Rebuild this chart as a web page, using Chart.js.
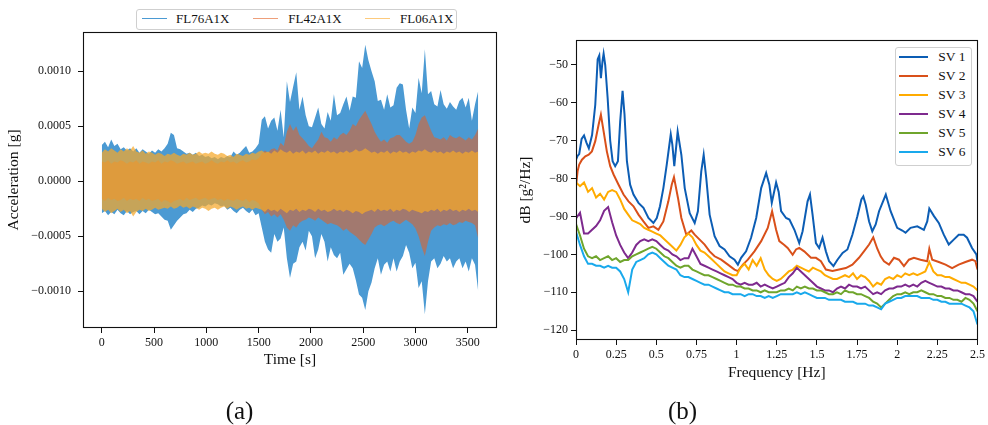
<!DOCTYPE html>
<html><head><meta charset="utf-8">
<script src="https://cdn.jsdelivr.net/npm/chart.js@4.4.0/dist/chart.umd.min.js"></script>
<style>
html,body{margin:0;padding:0;background:#fff;}
#wrap{position:relative;width:988px;height:425px;overflow:hidden;font-family:'Liberation Serif',serif;color:#111;}
canvas{position:absolute;top:0;}
.lg{position:absolute;border:1px solid #cfcfcf;border-radius:3px;background:#fff;box-sizing:border-box;}
.ln{position:absolute;}
.tx{position:absolute;white-space:nowrap;}
.cap{position:absolute;font-size:25px;line-height:25px;text-align:center;width:60px;}
</style></head>
<body><div id="wrap">
<canvas id="c1" width="510" height="425" style="left:0"></canvas>
<canvas id="c2" width="488" height="425" style="left:500px"></canvas>
</div>
<script>
// ---------------- (a) time series: envelope of each record, acceleration in units of 1e-4 g ----------------
const timeS = [0,30,60,90,120,150,180,210,240,270,300,330,360,390,420,450,480,510,540,570,600,630,660,690,720,750,780,810,840,870,900,930,960,990,1020,1050,1080,1110,1140,1170,1200,1230,1260,1290,1320,1350,1380,1410,1440,1470,1500,1530,1560,1590,1620,1650,1680,1710,1740,1770,1800,1830,1860,1890,1920,1950,1980,2010,2040,2070,2100,2130,2160,2190,2220,2250,2280,2310,2340,2370,2400,2430,2460,2490,2520,2550,2580,2610,2640,2670,2700,2730,2760,2790,2820,2850,2880,2910,2940,2970,3000,3030,3060,3090,3120,3150,3180,3210,3240,3270,3300,3330,3360,3390,3420,3450,3480,3510,3540,3570,3600];
const fl76Max = [3.3,3.6,3.1,3.8,3.2,3.4,2.9,3.1,2.8,3.0,2.7,3.0,2.6,2.9,2.7,2.5,2.8,2.6,2.9,2.7,3.0,3.4,4.4,4.2,3.0,2.9,2.7,2.5,2.6,2.4,2.6,2.3,2.4,2.2,2.3,2.1,2.2,2.0,2.2,2.1,2.3,2.2,2.7,2.4,2.6,2.9,3.2,2.6,2.7,3.0,3.4,5.6,5.9,4.8,5.5,5.8,4.6,6.5,4.0,9.1,7.2,8.6,9.9,6.5,7.7,6.0,5.0,4.9,5.8,6.7,5.2,4.8,6.3,5.5,7.9,6.0,6.2,7.0,7.7,6.4,7.7,7.6,10.9,10.3,12.4,11.0,10.0,9.1,7.3,7.4,6.5,7.9,6.7,6.9,8.5,8.9,8.8,6.5,4.8,6.7,6.2,9.4,8.0,12.0,7.9,8.2,7.0,6.8,8.3,7.0,6.6,7.2,6.8,6.5,7.3,7.6,6.7,7.6,5.5,7.0,8.2];
const fl76Min = [-2.9,-2.7,-3.1,-2.8,-3.0,-2.6,-2.9,-3.1,-2.7,-3.0,-2.8,-2.7,-3.0,-2.7,-2.9,-2.6,-2.8,-3.0,-2.9,-3.2,-3.5,-3.6,-4.4,-4.0,-3.6,-3.3,-3.0,-2.9,-2.6,-2.8,-2.5,-2.4,-2.2,-2.3,-2.1,-2.2,-2.0,-2.1,-2.3,-2.2,-2.6,-2.4,-2.7,-2.9,-2.6,-2.4,-2.7,-2.9,-2.6,-3.1,-2.9,-4.2,-5.5,-6.2,-6.5,-4.8,-5.5,-5.2,-4.2,-7.0,-8.8,-7.5,-7.3,-6.0,-5.5,-6.3,-4.5,-5.0,-7.0,-6.2,-4.8,-5.5,-7.3,-6.0,-6.7,-7.0,-6.5,-8.5,-8.0,-7.5,-7.9,-9.0,-10.3,-10.6,-11.7,-10.0,-9.2,-7.9,-7.0,-8.5,-7.6,-7.3,-8.2,-7.0,-8.2,-7.3,-6.8,-5.8,-6.5,-7.9,-7.4,-9.7,-9.1,-12.1,-9.1,-7.3,-7.0,-7.9,-7.5,-6.8,-7.3,-7.0,-7.9,-7.3,-7.0,-7.9,-7.3,-8.2,-7.0,-7.6,-10.0];
const fl42Max = [1.8,1.7,1.9,1.6,1.8,1.7,1.9,1.8,1.6,1.8,1.7,1.9,1.6,1.8,1.7,1.6,1.8,1.7,1.9,1.6,1.8,1.7,1.9,1.8,1.6,1.7,1.8,1.6,1.7,1.8,1.6,1.7,1.8,1.6,1.7,1.9,1.7,1.6,1.8,1.7,1.9,1.7,1.8,1.6,1.8,1.9,1.7,1.8,2.0,1.9,2.1,2.5,2.8,2.6,2.9,3.0,2.8,3.5,3.2,4.5,5.2,4.6,5.0,4.2,3.9,3.6,3.2,3.0,3.4,3.8,4.5,4.0,3.9,3.6,4.0,3.8,4.2,4.4,4.2,4.6,5.2,5.0,5.6,6.0,6.4,5.8,5.2,4.5,4.0,3.6,3.8,3.5,3.9,4.0,4.2,4.2,3.9,3.6,3.4,3.6,4.2,5.2,5.8,6.0,5.3,4.6,4.0,3.9,3.8,4.0,3.7,4.2,4.0,3.9,4.1,3.9,3.7,4.0,3.8,4.2,4.8];
const fl42Min = [-1.6,-1.8,-1.5,-1.7,-1.6,-1.8,-1.7,-1.5,-1.8,-1.6,-1.7,-1.6,-1.8,-1.5,-1.7,-1.6,-1.8,-1.7,-1.6,-1.9,-1.7,-1.8,-2.0,-1.8,-1.7,-1.6,-1.8,-1.5,-1.7,-1.6,-1.5,-1.7,-1.6,-1.5,-1.7,-1.6,-1.5,-1.7,-1.6,-1.8,-1.6,-1.7,-1.8,-1.6,-1.7,-1.8,-1.6,-1.9,-1.7,-1.8,-2.0,-2.6,-3.0,-2.8,-3.2,-3.0,-3.3,-3.0,-3.5,-4.2,-4.5,-4.0,-4.2,-3.8,-3.6,-3.5,-3.3,-3.4,-3.6,-3.3,-3.5,-3.7,-3.9,-3.8,-3.9,-4.0,-4.2,-4.5,-4.3,-4.6,-4.8,-5.0,-5.3,-5.6,-5.8,-5.3,-4.8,-4.2,-4.0,-3.9,-4.1,-3.9,-3.7,-3.6,-3.8,-3.9,-3.7,-3.5,-3.7,-3.9,-4.3,-5.0,-6.0,-6.8,-5.5,-4.5,-4.2,-4.0,-4.1,-3.9,-4.0,-3.8,-4.0,-3.9,-3.7,-3.8,-3.6,-3.7,-3.8,-4.0,-5.2];
const fl06Max = [2.6,2.9,2.7,3.0,2.8,2.6,2.9,2.7,3.0,2.8,3.2,2.7,2.6,2.8,2.5,2.7,2.6,2.4,2.6,2.5,2.3,2.5,2.4,2.6,2.4,2.3,2.5,2.4,2.6,2.4,2.5,2.7,2.5,2.6,2.5,2.7,2.5,2.4,2.6,2.5,2.3,2.4,2.2,2.5,2.4,2.3,2.5,2.4,2.6,2.5,2.7,2.8,2.6,2.7,2.5,2.8,2.6,2.9,2.7,2.6,2.8,2.5,2.7,2.6,2.8,2.5,2.7,2.6,2.8,2.5,2.7,2.6,2.8,2.6,2.7,2.5,2.7,2.6,2.8,2.6,2.7,2.9,2.7,2.8,3.0,2.8,2.6,2.7,2.5,2.7,2.6,2.8,2.5,2.7,2.6,2.8,2.6,2.7,2.5,2.7,2.6,2.8,2.7,2.9,2.7,2.6,2.8,2.6,2.7,2.5,2.7,2.6,2.8,2.6,2.7,2.5,2.7,2.6,2.8,2.6,2.7];
const fl06Min = [-2.5,-2.8,-2.6,-2.9,-2.7,-2.5,-2.8,-2.6,-2.9,-2.7,-3.2,-2.8,-2.6,-2.7,-2.5,-2.7,-2.6,-2.4,-2.6,-2.5,-2.4,-2.5,-2.3,-2.5,-2.4,-2.2,-2.4,-2.3,-2.5,-2.3,-2.4,-2.6,-2.4,-2.5,-2.7,-2.5,-2.4,-2.6,-2.4,-2.3,-2.5,-2.3,-2.4,-2.6,-2.4,-2.3,-2.5,-2.4,-2.6,-2.4,-2.5,-2.6,-2.8,-2.5,-2.7,-2.6,-2.8,-2.5,-2.7,-2.9,-2.6,-2.7,-2.5,-2.8,-2.6,-2.7,-2.5,-2.6,-2.8,-2.5,-2.7,-2.6,-2.8,-2.7,-2.5,-2.7,-2.6,-2.8,-2.6,-2.7,-2.9,-2.7,-2.8,-3.0,-2.8,-2.7,-2.6,-2.8,-2.5,-2.7,-2.6,-2.7,-2.5,-2.8,-2.6,-2.7,-2.5,-2.6,-2.8,-2.6,-2.7,-2.8,-2.9,-2.7,-2.8,-2.6,-2.7,-2.5,-2.8,-2.6,-2.7,-2.5,-2.7,-2.6,-2.8,-2.6,-2.7,-2.5,-2.7,-2.6,-2.8];
const timeTicks = [0,500,1000,1500,2000,2500,3000,3500];
const timeTickLabels = ['0','500','1000','1500','2000','2500','3000','3500'];
const accTicks = [-10,-5,0,5,10];               // in 1e-4 g
const accTickLabels = ['\u22120.0010','\u22120.0005','0.0000','0.0005','0.0010'];
const recNames = ['FL76A1X','FL42A1X','FL06A1X'];

// ---------------- (b) spectra (dB of g^2/Hz) ----------------
const freqSV1 = [0,0.01,0.02,0.035,0.05,0.065,0.08,0.1,0.12,0.135,0.145,0.155,0.165,0.172,0.182,0.197,0.213,0.228,0.244,0.261,0.275,0.29,0.302,0.317,0.337,0.358,0.389,0.42,0.451,0.482,0.503,0.523,0.544,0.565,0.59,0.6,0.612,0.633,0.656,0.677,0.708,0.739,0.759,0.78,0.795,0.811,0.832,0.863,0.894,0.925,0.956,0.987,1.008,1.028,1.059,1.09,1.122,1.153,1.184,1.204,1.219,1.246,1.262,1.277,1.308,1.329,1.36,1.39,1.411,1.442,1.457,1.473,1.494,1.514,1.535,1.556,1.576,1.603,1.628,1.66,1.69,1.721,1.752,1.777,1.789,1.804,1.825,1.845,1.866,1.887,1.929,1.959,2.0,2.032,2.052,2.083,2.125,2.166,2.187,2.2,2.229,2.259,2.29,2.321,2.352,2.383,2.414,2.435,2.466,2.493,2.5];
const sv1 = [-75,-74,-73.5,-69.5,-68.6,-70.5,-72,-68.5,-60.5,-48.5,-47.5,-53.5,-49,-47,-50,-58.7,-70,-75.4,-76.7,-75.4,-65,-56.8,-63,-75.4,-81.6,-84.2,-86.4,-87.7,-90.4,-91.7,-90.4,-87.3,-82.5,-76.3,-68.3,-71,-76.7,-67.6,-73.7,-82.5,-89.1,-91.7,-88.6,-78.1,-73.7,-79.8,-89.5,-95.2,-97.8,-98.7,-100.5,-101.4,-102.7,-100.9,-99.2,-95.6,-90.4,-82.5,-78.5,-81.6,-86.4,-81.0,-83.5,-88.6,-90.4,-90.8,-93.5,-97,-93.9,-86,-84.2,-89.5,-97,-98.3,-95.6,-99.2,-101.8,-103.1,-101.4,-99.6,-98.7,-94.8,-89.9,-85.5,-84.7,-86.9,-91.3,-93.9,-92.1,-88.6,-84.2,-88.6,-93,-93.7,-94.3,-93,-92.6,-93.5,-91.3,-87.9,-89.9,-91.7,-94.8,-97.4,-96.1,-94.8,-94.8,-95.6,-98.3,-100,-102];
const freqSV2 = [0,0.01,0.02,0.037,0.058,0.079,0.099,0.12,0.141,0.155,0.172,0.192,0.213,0.234,0.265,0.296,0.327,0.358,0.389,0.42,0.451,0.482,0.513,0.544,0.575,0.596,0.61,0.635,0.656,0.687,0.718,0.739,0.77,0.801,0.832,0.863,0.904,0.946,0.987,1.008,1.039,1.07,1.111,1.153,1.194,1.221,1.246,1.266,1.297,1.318,1.349,1.37,1.39,1.421,1.463,1.494,1.525,1.556,1.597,1.638,1.68,1.721,1.762,1.793,1.825,1.851,1.876,1.897,1.918,1.949,1.98,2.011,2.042,2.073,2.104,2.145,2.187,2.2,2.218,2.259,2.301,2.342,2.383,2.425,2.466,2.487,2.5];
const sv2 = [-82,-78,-76.3,-75,-74.1,-73.7,-72.8,-70.1,-65.7,-63.1,-67.5,-72.8,-76.7,-78.9,-81.6,-84.2,-86,-87.3,-89.5,-91.3,-93,-92.6,-93.5,-91.3,-86,-81.6,-79.6,-85.1,-90.4,-94.8,-93.7,-94.8,-96.1,-97.4,-99.2,-100.5,-101.4,-102.7,-104,-104.4,-102.7,-101.4,-99.2,-96.5,-93,-88.6,-93.5,-96.5,-97.5,-98.3,-100.1,-98.7,-98.3,-99.2,-100.9,-100.9,-101.8,-104,-104.4,-104,-103.6,-102.7,-100.9,-99.2,-97.4,-95.5,-98.5,-100.5,-101.8,-102.7,-100.9,-101.4,-103.1,-101.4,-100.9,-101.4,-101.8,-98.5,-101.4,-102,-102.7,-103.6,-102.7,-102,-101.4,-101.8,-104];
const freqGrid = [0,0.025,0.05,0.075,0.1,0.125,0.15,0.175,0.2,0.225,0.25,0.275,0.3,0.325,0.35,0.375,0.4,0.425,0.45,0.475,0.5,0.525,0.55,0.575,0.6,0.625,0.65,0.675,0.7,0.725,0.75,0.775,0.8,0.825,0.85,0.875,0.9,0.925,0.95,0.975,1,1.025,1.05,1.075,1.1,1.125,1.15,1.175,1.2,1.225,1.25,1.275,1.3,1.325,1.35,1.375,1.4,1.425,1.45,1.475,1.5,1.525,1.55,1.575,1.6,1.625,1.65,1.675,1.7,1.725,1.75,1.775,1.8,1.825,1.85,1.875,1.9,1.925,1.95,1.975,2,2.025,2.05,2.075,2.1,2.125,2.15,2.175,2.2,2.225,2.25,2.275,2.3,2.325,2.35,2.375,2.4,2.425,2.45,2.475,2.5];
const sv3 = [-81.0,-82.0,-81.0,-83.5,-82.5,-85.0,-84.0,-85.5,-83.5,-83.0,-83.5,-85.5,-88.0,-89.5,-91.0,-91.5,-92.0,-93.0,-93.5,-94.0,-94.5,-95.0,-96.0,-97.0,-98.0,-99.0,-97.5,-95.5,-94.5,-95.5,-97.5,-99.0,-99.5,-100.5,-101.5,-102.5,-103.5,-104.5,-105.0,-105.5,-105.5,-103.5,-102.5,-104.0,-101.5,-103.0,-101.0,-104.0,-105.5,-106.5,-107.0,-106.5,-105.5,-104.5,-104.0,-103.0,-103.5,-104.0,-104.5,-103.5,-104.0,-104.5,-105.5,-106.0,-106.5,-106.5,-106.0,-105.5,-106.0,-105.0,-106.5,-105.5,-106.0,-107.0,-108.5,-107.5,-108.0,-106.5,-106.0,-106.5,-105.5,-106.0,-105.0,-105.5,-105.0,-105.5,-105.0,-104.5,-102.0,-104.5,-105.5,-105.5,-106.0,-106.0,-106.5,-107.0,-107.5,-107.5,-108.0,-108.5,-109.5];
const sv4 = [-90.5,-89.0,-94.5,-94.5,-93.5,-92.5,-91.0,-88.5,-87.5,-91.5,-95.0,-97.5,-99.5,-101.0,-99.5,-97.5,-96.5,-96.0,-96.5,-96.0,-96.5,-97.5,-98.5,-99.0,-100.0,-100.5,-101.5,-101.0,-101.0,-98.5,-100.5,-102.5,-103.0,-103.5,-104.0,-104.5,-105.0,-105.5,-106.0,-106.5,-107.5,-108.0,-107.5,-108.0,-108.0,-107.5,-108.5,-108.0,-108.5,-109.0,-108.5,-108.0,-107.5,-106.0,-105.0,-103.5,-104.5,-105.5,-106.5,-107.5,-108.5,-109.0,-109.5,-109.5,-110.0,-109.0,-108.5,-109.0,-108.0,-108.5,-108.5,-109.0,-108.5,-109.5,-110.5,-110.0,-110.5,-109.5,-109.0,-109.0,-108.5,-108.5,-108.0,-108.5,-108.0,-108.5,-107.5,-107.0,-107.5,-108.0,-108.5,-108.5,-109.0,-109.0,-109.5,-109.5,-110.0,-110.5,-110.5,-111.0,-112.5];
const sv5 = [-92.0,-95.0,-98.5,-100.5,-101.0,-100.5,-101.5,-101.0,-100.5,-101.5,-101.0,-102.0,-101.5,-101.5,-100.5,-100.0,-99.5,-99.0,-98.5,-98.0,-98.5,-99.5,-100.5,-101.0,-102.0,-103.0,-103.5,-103.0,-103.0,-104.0,-104.5,-105.0,-105.5,-105.5,-106.0,-106.5,-107.0,-107.5,-108.0,-108.0,-108.5,-108.5,-109.0,-109.0,-109.5,-109.5,-110.0,-109.5,-110.0,-110.0,-110.0,-109.5,-109.5,-109.0,-109.5,-108.5,-109.0,-108.5,-109.0,-109.0,-109.5,-109.5,-110.0,-110.5,-110.5,-110.0,-110.5,-109.5,-110.0,-110.0,-110.5,-110.5,-111.0,-111.5,-112.5,-113.0,-114.0,-113.0,-112.0,-111.0,-110.5,-110.5,-110.0,-110.5,-110.0,-110.0,-109.5,-110.0,-110.5,-110.5,-111.0,-111.0,-111.5,-111.5,-112.0,-112.0,-112.5,-111.5,-112.0,-113.0,-115.0];
const sv6 = [-94.0,-97.5,-100.5,-102.5,-102.5,-103.0,-103.0,-103.5,-103.0,-103.5,-103.5,-104.5,-106.5,-110.0,-104.0,-102.0,-101.5,-101.0,-100.0,-99.5,-100.0,-101.0,-102.0,-103.0,-103.5,-104.0,-105.5,-106.0,-106.0,-106.5,-107.0,-107.5,-108.0,-108.0,-108.5,-109.0,-109.5,-110.0,-110.0,-110.5,-110.5,-110.5,-111.0,-110.5,-110.5,-111.0,-111.0,-111.5,-111.0,-111.5,-111.0,-110.5,-110.5,-110.5,-110.5,-110.0,-110.5,-110.0,-110.5,-111.0,-111.5,-111.5,-111.5,-112.0,-112.0,-112.0,-112.0,-112.5,-112.5,-112.5,-113.0,-113.0,-113.0,-113.5,-113.5,-114.0,-114.5,-113.0,-112.5,-112.0,-111.5,-111.5,-111.0,-111.0,-111.0,-111.0,-111.5,-111.5,-111.5,-112.0,-112.0,-112.5,-112.5,-113.0,-113.0,-113.0,-113.0,-113.5,-114.0,-115.0,-118.5];
const freqTicks = [0,0.25,0.5,0.75,1,1.25,1.5,1.75,2,2.25,2.5];
const freqTickLabels = ['0','0.25','0.5','0.75','1','1.25','1.5','1.75','2','2.25','2.5'];
const dbTicks = [-120,-110,-100,-90,-80,-70,-60,-50];
const dbTickLabels = ['\u2212120','\u2212110','\u2212100','\u221290','\u221280','\u221270','\u221260','\u221250'];
const svNames = ['SV 1','SV 2','SV 3','SV 4','SV 5','SV 6'];

// ---------------- styling ----------------
const FONT = "'Liberation Serif', 'Times New Roman', serif";
Chart.defaults.font.family = FONT;
Chart.defaults.color = '#111';
const recFill = ['#4b9ad3','rgba(220,100,45,0.6)','rgba(245,168,42,0.72)'];
const recLegend = ['#4b9ad3','#ee9f7a','#fdca7c'];
const svColors = ['#0c5db4','#d9501a','#ffab00','#7e2a8e','#6fa52c','#19a9ec'];

const pts = (xs, ys) => xs.map((x, i) => ({x: x, y: ys[i]}));
const frame = {id:'frame', afterDraw(ch){const a = ch.chartArea, c = ch.ctx; c.save(); c.strokeStyle='#111'; c.lineWidth=1.1; c.strokeRect(Math.round(a.left)+0.5, Math.round(a.top)+0.5, Math.round(a.right)-Math.round(a.left)-1, Math.round(a.bottom)-Math.round(a.top)-1); c.restore();}};
function axis(o){
  return {
    type:'linear', min:o.min, max:o.max, position:o.pos,
    afterBuildTicks: s => { s.ticks = o.ticks.map(v => ({value:v})); },
    afterFit: s => { if (o.pos === 'bottom') s.height = o.size; else s.width = o.size; },
    ticks:{autoSkip:false, maxRotation:0, padding:o.pad, font:{size:12}, color:'#111', callback:(v,i)=>o.labels[i]},
    grid:{display:true, drawOnChartArea:false, drawTicks:true, tickLength:5, color:'#111', lineWidth:1},
    border:{display:false},
    title:{display:true, text:o.title, font:{size:15.5}, color:'#111', padding:{top:0,bottom:0}}
  };
}

// ---------------- chart (a) ----------------
const envDs = [];
[[fl76Max,fl76Min],[fl42Max,fl42Min],[fl06Max,fl06Min]].forEach((pair, k) => {
  envDs.push({label:recNames[k], data:pts(timeS, pair[0]), fill:'+1', backgroundColor:recFill[k], borderColor:'rgba(0,0,0,0)', borderWidth:0, pointRadius:0, order:3-k});
  envDs.push({label:recNames[k]+' min', data:pts(timeS, pair[1]), fill:false, borderColor:'rgba(0,0,0,0)', borderWidth:0, pointRadius:0, order:3-k});
});
new Chart(document.getElementById('c1'), {
  type:'line',
  data:{datasets:envDs},
  options:{
    animation:false, responsive:false, events:[],
    layout:{padding:{left:5, top:32, right:13, bottom:55.7}},
    plugins:{legend:{display:false}, tooltip:{enabled:false}},
    scales:{
      x: axis({min:-180, max:3780, pos:'bottom', ticks:timeTicks, labels:timeTickLabels, title:'Time [s]', size:41.3, pad:3}),
      y: axis({min:-13.34, max:13.57, pos:'left', ticks:accTicks, labels:accTickLabels, title:'Acceleration [g]', size:78, pad:7})
    }
  },
  plugins:[frame]
});

// ---------------- chart (b) ----------------
const svData = [pts(freqSV1, sv1), pts(freqSV2, sv2), pts(freqGrid, sv3), pts(freqGrid, sv4), pts(freqGrid, sv5), pts(freqGrid, sv6)];
new Chart(document.getElementById('c2'), {
  type:'line',
  data:{datasets: svData.map((d, k) => ({label:svNames[k], data:d, borderColor:svColors[k], borderWidth:2, pointRadius:0, fill:false, tension:0, order:6-k}))},
  options:{
    animation:false, responsive:false, events:[],
    layout:{padding:{left:17, top:40, right:9.3, bottom:43}},
    plugins:{legend:{display:false}, tooltip:{enabled:false}},
    scales:{
      x: axis({min:0, max:2.5, pos:'bottom', ticks:freqTicks, labels:freqTickLabels, title:'Frequency [Hz]', size:42, pad:3}),
      y: axis({min:-122.6, max:-43.4, pos:'left', ticks:dbTicks, labels:dbTickLabels, title:'dB [g\u00b2/Hz]', size:59, pad:3})
    }
  },
  plugins:[frame]
});

// ---------------- legends and captions (HTML text) ----------------
const wrap = document.getElementById('wrap');
function el(cls, css, text){ const d = document.createElement('div'); d.className = cls; Object.assign(d.style, css); if (text) d.textContent = text; wrap.appendChild(d); return d; }
el('lg', {left:'136px', top:'9px', width:'321px', height:'21px'});
const lgLineX = [141.7, 253.3, 365], lgTextX = [176, 288.3, 400];
recNames.forEach((n, k) => {
  el('ln', {left:lgLineX[k]+'px', top:'17.5px', width:'25px', height:'1.6px', background:recLegend[k]});
  el('tx', {left:lgTextX[k]+'px', top:'12px', fontSize:'13px', lineHeight:'13px'}, n);
});
el('lg', {left:'895px', top:'46.5px', width:'77px', height:'119px'});
svNames.forEach((n, k) => {
  const cy = 56.7 + 19 * k;
  el('ln', {left:'899.3px', top:(cy-1.2)+'px', width:'29px', height:'2.4px', background:svColors[k]});
  el('tx', {left:'938.3px', top:(cy-6.8)+'px', fontSize:'13.5px', lineHeight:'13.5px'}, n);
});
el('cap', {left:(239.5-30)+'px', top:'397.6px'}, '(a)');
el('cap', {left:(682.5-30)+'px', top:'397.6px'}, '(b)');
</script>
</body></html>
